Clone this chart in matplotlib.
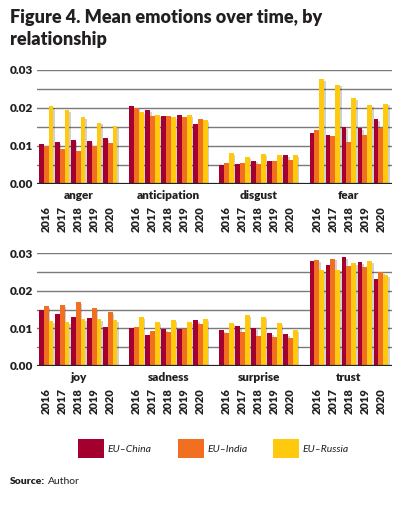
import matplotlib
matplotlib.use('Agg')
import matplotlib.pyplot as plt
import matplotlib.patheffects as pe
from matplotlib.patches import Rectangle
import numpy as np

plt.rcParams['font.family'] = ['Lato', 'DejaVu Sans']

years = ['2016', '2017', '2018', '2019', '2020']
series = ['EU–China', 'EU–India', 'EU–Russia']
colors = ['#a3002f', '#f26f22', '#ffc90e']

top_categories = ['anger', 'anticipation', 'disgust', 'fear']
bottom_categories = ['joy', 'sadness', 'surprise', 'trust']

# rows: EU–China, EU–India, EU–Russia ; columns: 2016..2020
anger = [[0.0105, 0.0110, 0.0116, 0.0113, 0.0121],
         [0.0100, 0.0092, 0.0087, 0.0100, 0.0108],
         [0.0205, 0.0195, 0.0176, 0.0161, 0.0153]]
anticipation = [[0.0205, 0.0195, 0.0179, 0.0182, 0.0158],
                [0.0201, 0.0179, 0.0179, 0.0176, 0.0171],
                [0.0189, 0.0182, 0.0176, 0.0182, 0.0168]]
disgust = [[0.0050, 0.0053, 0.0061, 0.0061, 0.0076],
           [0.0055, 0.0055, 0.0053, 0.0061, 0.0063],
           [0.0082, 0.0071, 0.0079, 0.0076, 0.0076]]
fear = [[0.0134, 0.0129, 0.0150, 0.0147, 0.0171],
        [0.0142, 0.0126, 0.0111, 0.0129, 0.0147],
        [0.0276, 0.0261, 0.0226, 0.0208, 0.0211]]
joy = [[0.0148, 0.0138, 0.0130, 0.0127, 0.0103],
       [0.0159, 0.0162, 0.0169, 0.0154, 0.0143],
       [0.0119, 0.0116, 0.0124, 0.0124, 0.0122]]
sadness = [[0.0101, 0.0082, 0.0098, 0.0098, 0.0122],
           [0.0103, 0.0093, 0.0090, 0.0098, 0.0111],
           [0.0130, 0.0116, 0.0122, 0.0116, 0.0124]]
surprise = [[0.0095, 0.0106, 0.0101, 0.0087, 0.0085],
            [0.0087, 0.0090, 0.0079, 0.0077, 0.0074],
            [0.0114, 0.0135, 0.0130, 0.0114, 0.0095]]
trust = [[0.0278, 0.0267, 0.0289, 0.0275, 0.0230],
         [0.0281, 0.0285, 0.0265, 0.0262, 0.0249],
         [0.0254, 0.0256, 0.0273, 0.0278, 0.0241]]

top_data = [anger, anticipation, disgust, fear]
bottom_data = [joy, sadness, surprise, trust]

W, H = 402, 505
fig = plt.figure(figsize=(W / 100, H / 100), dpi=100)

PITCH = 5.64
BW = 0.30
TXT = '#231f20'


def panel(rect, cats, data):
    ax = fig.add_axes(rect)
    for c, (cat, vals) in enumerate(zip(cats, data)):
        base = c * PITCH + np.arange(len(years))
        for s in range(3):
            bars = ax.bar(base + (s - 1) * BW, vals[s], width=BW, color=colors[s],
                          zorder=3, linewidth=0)
            for b in bars:
                b.set_path_effects([pe.SimplePatchShadow(offset=(1.2, -1.2),
                                                         shadow_rgbFace='#000000', alpha=0.18),
                                    pe.Normal()])
        ax.annotate(cat, xy=(c * PITCH + 2, 0), xycoords=('data', 'axes fraction'),
                    xytext=(0, -8.6), textcoords='offset points', ha='center', va='center',
                    fontsize=8.5, fontweight='heavy', color=TXT)
        for j, y in enumerate(years):
            ax.annotate(y, xy=(base[j], 0), xycoords=('data', 'axes fraction'),
                        xytext=(0, -16.0), textcoords='offset points', ha='center', va='top',
                        rotation=90, fontsize=8, fontweight='heavy', color=TXT)
    for y in [0.005, 0.01, 0.015, 0.02, 0.025, 0.03]:
        ax.axhline(y, color='#7a7a7a', lw=1.0, zorder=1)
    ax.axhline(0, color='#222222', lw=1.6, zorder=4)
    ax.set_ylim(0, 0.03)
    ax.set_xlim(-0.575, 3 * PITCH + 4.7)
    ax.set_yticks([0, 0.01, 0.02, 0.03])
    ax.set_yticklabels(['0.00', '0.01', '0.02', '0.03'])
    ax.tick_params(axis='y', length=0, pad=3, labelsize=8.5, labelcolor=TXT)
    for lab in ax.get_yticklabels():
        lab.set_fontweight('heavy')
    ax.set_xticks([])
    for sp in ax.spines.values():
        sp.set_visible(False)
    ax.patch.set_alpha(0)
    return ax


def frac(left, top, right, bottom):
    return [left / W, 1 - bottom / H, (right - left) / W, (bottom - top) / H]


panel(frac(37, 70, 392, 184), top_categories, top_data)
panel(frac(37, 253, 392, 366), bottom_categories, bottom_data)

fig.text(10 / W, 1 - 18 / H, 'Figure 4. Mean emotions over time, by', fontsize=13,
         fontweight='heavy', color=TXT, va='center', ha='left')
fig.text(10 / W, 1 - 40 / H, 'relationship', fontsize=13,
         fontweight='heavy', color=TXT, va='center', ha='left')

leg_x = [78, 178, 273]
for x, lab, col in zip(leg_x, series, colors):
    fig.add_artist(Rectangle((x / W, 1 - 458 / H), 26 / W, 19 / H, transform=fig.transFigure,
                             facecolor=col, edgecolor='none'))
    fig.text((x + 29) / W, 1 - 449 / H, lab, fontsize=7.5, fontstyle='italic',
             color=TXT, va='center', ha='left')

fig.text(10 / W, 1 - 481 / H, 'Source:', fontsize=7.5, fontweight='heavy', color=TXT,
         va='center', ha='left')
fig.text(48 / W, 1 - 481 / H, 'Author', fontsize=7.5, color=TXT,
         va='center', ha='left')

fig.savefig('out.png', dpi=100)
